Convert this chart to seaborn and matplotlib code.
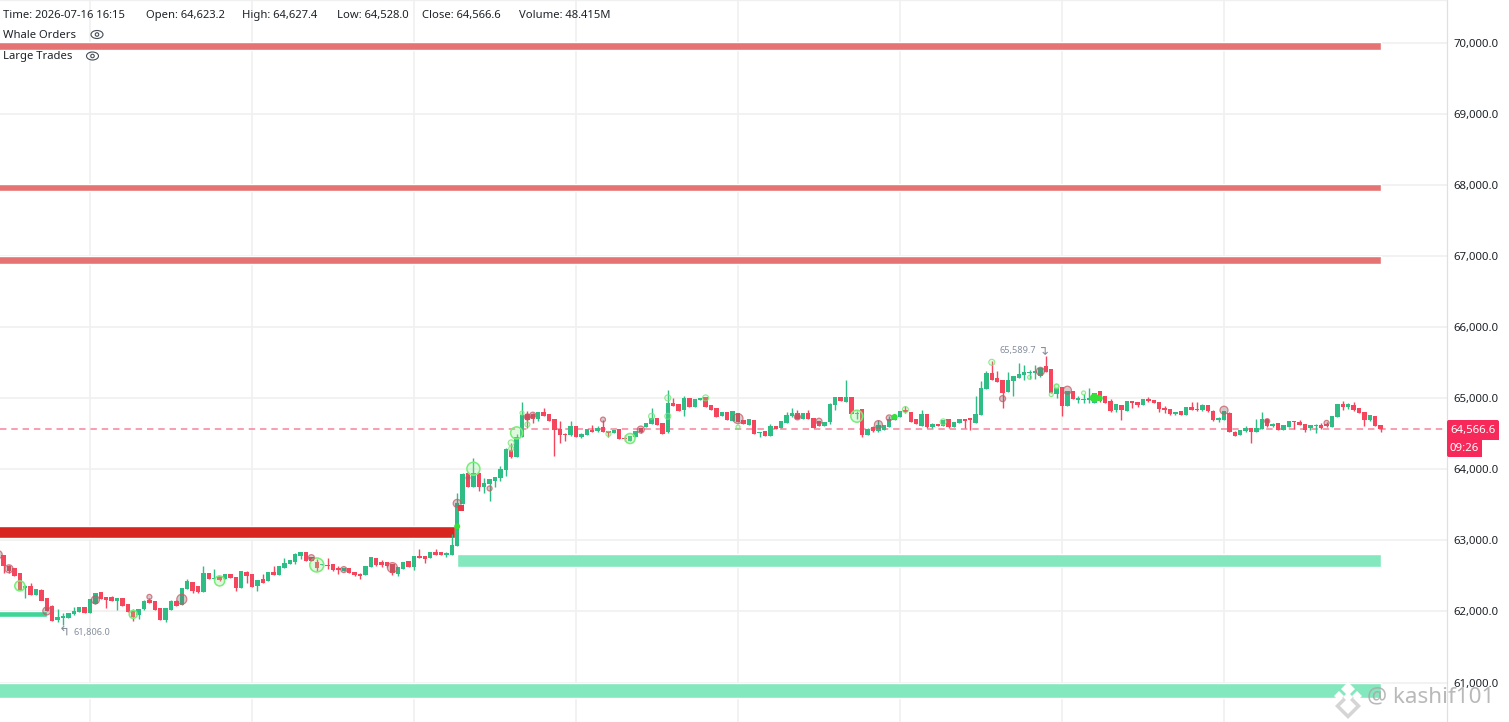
import numpy as np
import pandas as pd
import matplotlib
matplotlib.use("Agg")
import matplotlib.pyplot as plt
from matplotlib.patches import Ellipse, FancyBboxPatch
from matplotlib.transforms import IdentityTransform
import seaborn as sns

opens = [62827,
 62790,62640,62603,62532,62340,62350,62242,62303,62181,62078,
 61882,61910,61915,61966,61999,62055,61985,62116,62265,62195,
 62195,62153,62181,62102,62008,61961,62032,62158,62139,62041,
 61891,62022,62149,62102,62322,62415,62350,62284,62537,62457,
 62490,62462,62518,62480,62336,62556,62523,62359,62453,62429,
 62546,62523,62617,62673,62701,62790,62837,62757,62696,62654,
 62654,62663,62607,62570,62612,62556,62528,62518,62626,62752,
 62687,62696,62663,62537,62603,62701,62631,62780,62771,62752,
 62837,62837,62804,62804,62921,63520,63940,63753,63940,63753,
 63800,63833,63880,63996,64268,64174,64455,64769,64769,64708,
 64801,64769,64708,64558,64497,64488,64605,64455,64488,64549,
 64535,64595,64530,64511,64558,64436,64408,64455,64581,64595,
 64642,64722,64642,64521,64923,64909,64839,65003,64876,64979,
 65017,64895,64862,64755,64806,64689,64792,64689,64629,64689,
 64512,64535,64474,64605,64582,64652,64746,64783,64717,64792,
 64717,64675,64615,64666,64905,65017,64951,65017,64783,64848,
 64488,64596,64535,64558,64596,64699,64736,64825,64802,64699,
 64615,64774,64596,64638,64615,64708,64596,64652,64708,64713,
 64652,64764,65129,65354,65284,65251,65092,65246,65284,65331,
 65354,65354,65317,65448,65401,65064,65158,64896,65097,64980,
 64980,64980,64942,65097,65027,64957,64830,64900,64825,64957,
 64947,64910,64989,64970,64942,64863,64849,64779,64816,64765,
 64877,64849,64830,64896,64821,64699,64699,64793,64526,64488,
 64535,64577,64526,64573,64699,64605,64643,64554,64596,64676,
 64662,64629,64582,64605,64615,64629,64596,64736,64919,64877,
 64900,64853,64802,64690,64746,64623.2]
closes = [62743,
 62640,62570,62509,62312,62350,62242,62312,62158,62008,61868,
 61915,61929,61975,62008,62055,61985,62172,62257,62181,62172,
 62153,62181,62088,61999,61929,62032,62149,62125,62022,61891,
 62041,62149,62088,62322,62429,62289,62275,62537,62462,62467,
 62443,62518,62471,62336,62565,62499,62350,62439,62406,62546,
 62514,62631,62677,62720,62804,62827,62710,62710,62617,62663,
 62645,62593,62593,62607,62546,62518,62509,62640,62757,62663,
 62659,62640,62546,62617,62696,62631,62780,62757,62743,62837,
 62804,62799,62813,62935,63520,63936,63753,63940,63753,63800,
 63856,63889,64006,64287,64174,64455,64755,64698,64708,64801,
 64755,64689,64558,64488,64488,64605,64455,64497,64558,64530,
 64581,64525,64520,64549,64427,64427,64464,64535,64521,64652,
 64722,64628,64502,64923,64895,64829,65003,64876,64989,65003,
 64886,64839,64745,64806,64698,64815,64675,64642,64699,64498,
 64525,64474,64605,64568,64675,64764,64783,64708,64783,64708,
 64586,64615,64666,64919,65017,64970,65017,64783,64792,64488,
 64568,64535,64615,64615,64699,64755,64816,64802,64675,64643,
 64769,64591,64628,64615,64689,64591,64661,64708,64685,64699,
 64774,65139,65354,65260,65237,65073,65251,65307,65335,65363,
 65368,65377,65424,65377,65073,65144,64896,65097,64989,65003,
 64989,65003,65073,64957,64942,64825,64910,64830,64957,64933,
 64910,64989,64966,64938,64849,64830,64774,64802,64769,64877,
 64840,64830,64896,64816,64690,64722,64816,64526,64474,64549,
 64573,64521,64582,64699,64605,64629,64554,64615,64676,64662,
 64629,64559,64615,64625,64577,64605,64746,64919,64877,64910,
 64830,64793,64690,64755,64615,64566.6]
highs = [62850,
 62800,62650,62610,62540,62369,62406,62320,62310,62195,62085,
 62032,61985,61985,62069,62060,62070,62175,62265,62275,62200,
 62215,62190,62190,62110,62040,62040,62155,62195,62145,62045,
 62050,62155,62160,62330,62462,62420,62355,62640,62545,62600,
 62495,62525,62525,62485,62570,62570,62530,62445,62523,62550,
 62640,62635,62748,62725,62827,62835,62842,62762,62734,62670,
 62748,62668,62640,62612,62617,62560,62546,62645,62762,62757,
 62720,62700,62668,62622,62700,62706,62785,62874,62776,62842,
 62883,62842,62837,63085,63660,63950,63950,64160,63945,63880,
 63861,63894,64040,64292,64371,64500,64946,64815,64792,64810,
 64862,64774,64713,64675,64510,64675,64610,64510,64570,64628,
 64605,64698,64535,64554,64563,64488,64469,64540,64586,64657,
 64862,64727,64647,65120,65003,64914,65035,65008,64994,65008,
 65022,64900,64867,64811,64811,64820,64797,64694,64704,64694,
 64530,64540,64643,64610,64680,64811,64863,64830,64788,64839,
 64726,64680,64671,64930,65022,65022,65260,65022,64815,64853,
 64573,64601,64690,64620,64755,64760,64821,64886,64807,64704,
 64830,64779,64645,64643,64694,64713,64666,64713,64713,64718,
 65026,65237,65384,65518,65377,65256,65368,65312,65494,65471,
 65400,65471,65440,65589.7,65406,65149,65163,65102,65102,65036,
 65064,65143,65078,65105,65032,64989,64915,64905,64962,64962,
 64952,64994,65017,64975,64947,64896,64854,64807,64821,64882,
 64942,64942,64920,64901,64826,64740,64821,64798,64531,64554,
 64615,64582,64708,64802,64704,64650,64648,64620,64681,64681,
 64699,64634,64620,64630,64652,64660,64751,64924,64966,64933,
 64942,64858,64807,64760,64751,64627.4]
lows = [62700,
 62546,62537,62500,62300,62191,62230,62235,62155,62000,61860,
 61854,61806,61905,61955,61990,61980,61980,62110,62175,62050,
 62145,62022,62080,61990,61868,61900,62025,62115,62015,61885,
 61854,62015,62080,62095,62310,62266,62265,62280,62450,62450,
 62435,62455,62465,62290,62330,62406,62340,62289,62400,62425,
 62510,62520,62612,62668,62663,62734,62705,62705,62570,62650,
 62593,62570,62523,62565,62541,62505,62462,62514,62620,62640,
 62631,62620,62509,62505,62598,62626,62584,62752,62677,62748,
 62790,62795,62771,62800,62916,63515,63745,63748,63692,63660,
 63552,63753,63833,63903,64160,64170,64450,64581,64652,64680,
 64750,64684,64193,64371,64394,64470,64450,64440,64480,64520,
 64520,64520,64455,64506,64422,64394,64403,64450,64516,64590,
 64637,64623,64497,64516,64890,64824,64745,64871,64871,64974,
 64881,64834,64740,64750,64693,64684,64670,64637,64624,64493,
 64455,64469,64469,64563,64577,64647,64741,64703,64712,64703,
 64581,64610,64610,64640,64839,64960,64946,64778,64700,64455,
 64483,64530,64530,64553,64591,64694,64731,64797,64670,64638,
 64610,64586,64582,64610,64610,64586,64591,64647,64582,64558,
 64647,64759,65124,65255,65232,64863,65087,65036,65279,65260,
 65270,65270,65300,65372,65068,65003,64755,64891,64984,64933,
 64933,64933,64937,64952,64937,64810,64810,64699,64820,64863,
 64877,64905,64952,64933,64802,64793,64769,64760,64764,64760,
 64835,64825,64825,64811,64675,64662,64694,64521,64469,64483,
 64530,64371,64521,64568,64600,64590,64549,64549,64591,64559,
 64624,64521,64549,64512,64559,64590,64591,64731,64830,64840,
 64825,64788,64605,64685,64610,64528.0]

ytick_prices = [61000,62000,63000,64000,65000,66000,67000,68000,69000,70000]
ytick_labels = ["61,000.0","62,000.0","63,000.0","64,000.0","65,000.0",
                "66,000.0","67,000.0","68,000.0","69,000.0","70,000.0"]
grid_candles = [16,46,76,106,136,166,196,226]

# liquidity bands: low price, high price, first candle, last candle
ask_low = [69890, 67912, 66886]
ask_high = [70000, 68010, 66998]
wall_low, wall_high = 63030, 63198
bid_low = [62630, 60780]
bid_high = [62808, 61000]
bid_start = [84.0, -1.0]
thin_low, thin_high = 61925, 62005
last_price = 64566.6

# whale / large trade circles
big_green_i = [3,40,24,58,87,95,116,158]
big_green_p = [62360,62430,61960,62654,64007,64511,64432,64746]
big_green_r = [5,5,4,7,6.5,6,5,6]
ring_i = [8,17,33,1,-1,27,57,72,63,84,90,97,98,111,118,136,162,147,151,164,185,192,197,226,245,234,86]
ring_p = [62008,62163,62172,62600,62800,62205,62757,62617,62589,63520,63730,64736,64760,64698,64558,64712,
          64628,64736,64675,64722,64993,65377,65111,64830,64652,64676,63880]
ring_r = [4,4,5,4,4,2.5,3,5,3,4,2.5,3,3,2.5,3.5,5,4,3,3,3,3,4,4,4,2.5,2.5,2]
small_green_i = [96,97,94,136,112,120,123,123,130,167,174,183,190,194,195,195,200,94]
small_green_p = [64790,64630,64371,64595,64497,64745,64745,65003,65003,64839,64666,65504,65293,65050,65167,65165,65073,64290]
small_green_r = [2,2.5,3,2,2.5,3,3,3,3,3,3,3,2,2,2,2.5,2,2.5]
solid_green_i = [84,165,202,203]
solid_green_p = [63197,64736,65003,65000]
solid_green_r = [3,3,4.5,3]
square_i = [84.7]
square_p = [63450]

low_label, high_label = "61,806.0", "65,589.7"
low_candle, high_candle = 11, 193

GREEN, RED = "#2EBD85", "#F6465D"
sns.set_theme(style="white", rc={"axes.facecolor": "white"})
plt.rcParams["font.family"] = ["Noto Sans", "DejaVu Sans"]

df = pd.DataFrame({"i": np.arange(len(opens)) - 1, "open": opens, "close": closes, "high": highs, "low": lows})
df["top"] = df[["open", "close"]].max(axis=1)
df["bot"] = df[["open", "close"]].min(axis=1)
df["color"] = np.where(df["close"] >= df["open"], GREEN, RED)

W, H = 1509, 722
fig = plt.figure(figsize=(W / 100, H / 100), dpi=100)
ax = fig.add_axes([0, 0, 1446.5 / W, 1])
px_per_candle = 5.4
x0 = 3.6
ax.set_xlim(-x0 / px_per_candle, (1446.5 - x0) / px_per_candle)
ax.set_ylim(70000 - (722 - 42.5) * 14.06, 70000 + 42.5 * 14.06)

GRID = "#F0F0F0"
for g in grid_candles:
    ax.axvline(g, color=GRID, lw=1.2, zorder=1)
for p in ytick_prices:
    ax.axhline(p, color=GRID, lw=1.2, zorder=1)

# bands
right_end = 255.1
left_end = -1.0
ax.barh([(a + b) / 2 for a, b in zip(ask_low, ask_high)], right_end - left_end,
        height=[b - a for a, b in zip(ask_low, ask_high)], left=left_end, color="#E57373", zorder=2)
ax.barh((wall_low + wall_high) / 2, 83.6 - left_end, height=wall_high - wall_low, left=left_end, color="#D9251F", zorder=2)
ax.barh([(a + b) / 2 for a, b in zip(bid_low, bid_high)],
        [right_end - s for s in bid_start], height=[b - a for a, b in zip(bid_low, bid_high)],
        left=bid_start, color="#84E8BE", zorder=2)
ax.barh((thin_low + thin_high) / 2, 8.0 - left_end, height=thin_high - thin_low, left=left_end, color="#3DD598", zorder=2)

# last price
ax.axhline(last_price, color="#F6839A", lw=1.1, dashes=(4.2, 3.2), zorder=3)

# candles
ax.vlines(df["i"], df["low"], df["high"], colors=df["color"], lw=1.0, zorder=4)
ax.bar(df["i"], df["top"] - df["bot"] + 8, bottom=df["bot"] - 4, width=0.84, color=df["color"], linewidth=0, zorder=5)

def s_of(r):
    return [(2 * x * 0.72) ** 2 for x in r]

sns.scatterplot(x=big_green_i, y=big_green_p, s=s_of(big_green_r), ax=ax, facecolor=(0.55, 0.93, 0.55, 0.28),
                edgecolor="#77EE77", linewidth=1.1, zorder=6, legend=False)
sns.scatterplot(x=ring_i, y=ring_p, s=s_of(ring_r), ax=ax, facecolor=(0.45, 0.40, 0.40, 0.32),
                edgecolor=(0.80, 0.35, 0.40, 0.75), linewidth=0.9, zorder=6, legend=False)
sns.scatterplot(x=small_green_i, y=small_green_p, s=s_of(small_green_r), ax=ax, facecolor=(0.55, 0.93, 0.55, 0.2),
                edgecolor=(0.45, 0.90, 0.45, 0.8), linewidth=0.8, zorder=6, legend=False)
sns.scatterplot(x=solid_green_i, y=solid_green_p, s=s_of(solid_green_r), ax=ax, color="#33E13A",
                edgecolor="#33E13A", linewidth=0, zorder=7, legend=False)
sns.scatterplot(x=square_i, y=square_p, marker="s", s=22, ax=ax, color="#E83848", linewidth=0, zorder=6, legend=False)

# axes
ax.yaxis.tick_right()
ax.set_yticks(ytick_prices, ytick_labels)
ax.tick_params(axis="y", length=0, pad=5, labelsize=8.2, labelcolor="#1E2329")
ax.set_xticks([])
for side in ("left", "bottom"):
    ax.spines[side].set_visible(False)
ax.spines["top"].set_color("#F0F0F0")
ax.spines["top"].set_linewidth(1)
ax.spines["right"].set_color("#E0E0E0")
ax.spines["right"].set_linewidth(0.9)

# header
txt = "#1E2329"
def head(x, y, s):
    fig.text(x / W, 1 - y / H, s, fontsize=8.1, color=txt, ha="left", va="center", zorder=10)
for x, s in [(3, "Time: 2026-07-16 16:15"), (146, "Open: 64,623.2"), (242, "High: 64,627.4"),
             (337, "Low: 64,528.0"), (422, "Close: 64,566.6"), (519, "Volume: 48.415M")]:
    head(x, 15.5, s)
head(3, 35.5, "Whale Orders")
head(3, 56.5, "Large Trades")

for ex, ey in [(97, 34.5), (92.5, 56)]:
    fig.add_artist(Ellipse((ex, H - ey), 12, 8, transform=IdentityTransform(), fill=False, ec="#474D57", lw=0.8))
    fig.add_artist(Ellipse((ex, H - ey), 3.5, 3.5, transform=IdentityTransform(), fill=False, ec="#474D57", lw=0.8))

# extreme labels
ax.annotate(low_label, (low_candle, 61806), xytext=(73, H - 632.5), textcoords="figure pixels",
            fontsize=6.6, color="#848E9C", va="center", ha="left", zorder=8)
ax.annotate("↰", (low_candle, 61806), xytext=(64, H - 631), textcoords="figure pixels",
            fontsize=9.5, color="#848E9C", va="center", ha="center", family="DejaVu Sans", zorder=8)
ax.annotate(high_label, (high_candle, 65589.7), xytext=(1036, H - 350), textcoords="figure pixels",
            fontsize=6.6, color="#848E9C", va="center", ha="right", zorder=8)
ax.annotate("↴", (high_candle, 65589.7), xytext=(1044, H - 351), textcoords="figure pixels",
            fontsize=9.5, color="#848E9C", va="center", ha="center", family="DejaVu Sans", zorder=8)

# price tag
tag = FancyBboxPatch((1447, H - 457), 52, 37, boxstyle="round,pad=0,rounding_size=2", transform=IdentityTransform(),
                     fc="#F6295A", ec="none", zorder=9)
fig.add_artist(tag)
tag2_cover = FancyBboxPatch((1482, H - 458), 18, 18.5, boxstyle="square,pad=0", transform=IdentityTransform(),
                            fc="white", ec="none", zorder=9.5)
fig.add_artist(tag2_cover)
fig.text(1450 / W, 1 - 430.5 / H, "64,566.6", color="white", fontsize=8.2, va="center", ha="left", zorder=10)
fig.text(1450 / W, 1 - 448.5 / H, "09:26", color="white", fontsize=8.2, va="center", ha="left", zorder=10)

# watermark
fig.text(1367 / W, 1 - 697 / H, "@ kashif101", color="#A8A8A8", alpha=0.8, fontsize=16.2, va="center", ha="left", zorder=11)
for dx, dy, size, col in [(1348, 706, 13, "#D5D5D5"), (1348, 706, 8, "white"), (1348, 689, 7, "white"),
                          (1339, 696, 5, "white"), (1348, 697, 5, "white"), (1357, 696, 5, "white")]:
    fig.add_artist(plt.Line2D([dx], [H - dy], marker="D", markersize=size, color=col, transform=IdentityTransform(),
                              linewidth=0, zorder=10.5, markeredgewidth=0))

fig.savefig("out.png", dpi=100)
